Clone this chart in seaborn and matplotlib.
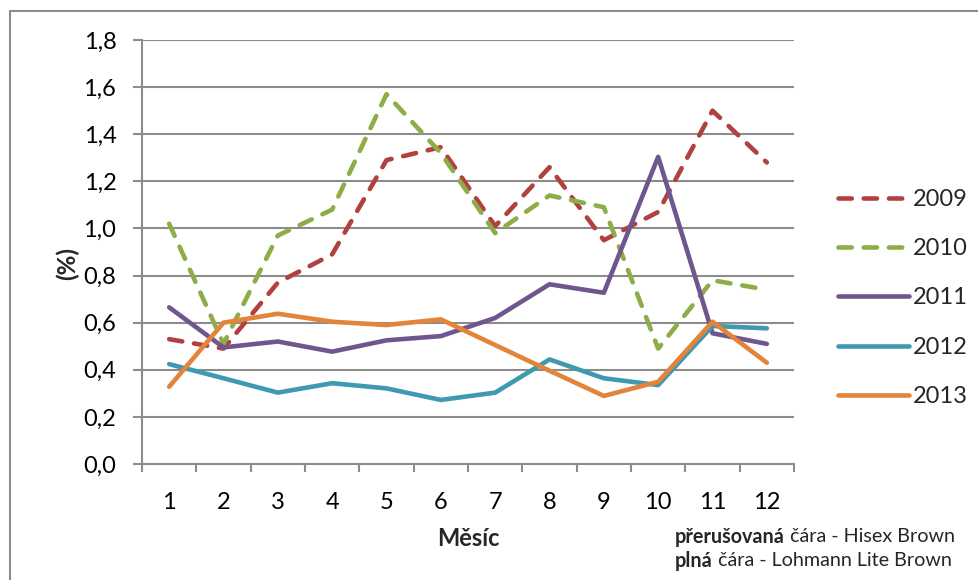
import matplotlib
matplotlib.use("Agg")
import matplotlib.pyplot as plt
import matplotlib.lines as mlines
import numpy as np
import pandas as pd
import seaborn as sns

# Monthly values (%) per year
months = [1, 2, 3, 4, 5, 6, 7, 8, 9, 10, 11, 12]
years = ["2009", "2010", "2011", "2012", "2013"]
v2009 = [0.53, 0.49, 0.77, 0.89, 1.29, 1.345, 1.01, 1.26, 0.95, 1.07, 1.50, 1.28]
v2010 = [1.02, 0.51, 0.97, 1.08, 1.57, 1.32, 0.98, 1.14, 1.09, 0.49, 0.78, 0.74]
v2011 = [0.665, 0.495, 0.52, 0.477, 0.525, 0.543, 0.62, 0.763, 0.727, 1.304, 0.555, 0.51]
v2012 = [0.424, 0.364, 0.303, 0.343, 0.321, 0.272, 0.303, 0.444, 0.364, 0.335, 0.586, 0.576]
v2013 = [0.328, 0.60, 0.638, 0.604, 0.59, 0.614, 0.505, 0.396, 0.289, 0.349, 0.604, 0.43]
yticks = [0.0, 0.2, 0.4, 0.6, 0.8, 1.0, 1.2, 1.4, 1.6, 1.8]

series = [v2009, v2010, v2011, v2012, v2013]
df = pd.DataFrame({
    "month": np.tile(months, len(years)),
    "year": np.repeat(years, len(months)),
    "value": np.concatenate(series),
})

colors = {"2009": "#B0413E", "2010": "#8DAD49", "2011": "#70568F",
          "2012": "#3F99B1", "2013": "#E2843A"}
dash = (2.9, 2.6)
dashes = {"2009": dash, "2010": dash, "2011": "", "2012": "", "2013": ""}

sns.set_theme(style="white")
plt.rcParams["font.family"] = ["Lato", "DejaVu Sans"]

W, H = 979, 580
fig = plt.figure(figsize=(W / 100, H / 100), dpi=100)
L, R, T, B = 142, 794, 40, 464
ax = fig.add_axes([L / W, 1 - B / H, (R - L) / W, (B - T) / H])

sns.lineplot(data=df, x="month", y="value", hue="year", style="year",
             palette=colors, dashes=dashes, linewidth=3.3, ax=ax,
             legend=False, sort=False)
for ln in ax.get_lines():
    ln.set_dash_capstyle("round")
    ln.set_solid_capstyle("round")
    ln.set_solid_joinstyle("round")
    ln.set_dash_joinstyle("round")

grid_c = "#8C8C8C"
ax.set_xlim(0.5, 12.5)
ax.set_ylim(0, 1.8)
ax.set_yticks(yticks)
ax.set_yticklabels([f"{t:.1f}".replace(".", ",") for t in yticks])
ax.set_xticks(months)
ax.set_xticklabels([str(m) for m in months])
ax.set_xticks(np.arange(0.5, 13.0, 1.0), minor=True)
ax.yaxis.grid(True, color=grid_c, linewidth=1.5)
ax.set_axisbelow(True)
for s in ["top", "right"]:
    ax.spines[s].set_visible(False)
for s in ["left", "bottom"]:
    ax.spines[s].set_color(grid_c)
    ax.spines[s].set_linewidth(1.5)
ax.tick_params(axis="y", which="major", left=True, length=6.5, width=1.5,
               color=grid_c, pad=12, labelsize=17, labelcolor="black")
ax.tick_params(axis="x", which="major", bottom=True, length=0, pad=20,
               labelsize=17, labelcolor="black")
ax.tick_params(axis="x", which="minor", bottom=True, length=6, width=1.5,
               color=grid_c)
ax.set_xlabel("")
ax.set_ylabel("")

fig.text(67 / W, 1 - 263 / H, "(%)", rotation=90, fontsize=17.5,
         fontweight="bold", ha="center", va="center")
fig.text(468 / W, 1 - 538 / H, "Měsíc", fontsize=17, fontweight="bold",
         ha="center", va="center")

# Legend
handles = []
for y in years:
    h = mlines.Line2D([], [], color=colors[y], linewidth=3.3,
                      linestyle=(0, dashes[y]) if dashes[y] else "-",
                      dash_capstyle="round", solid_capstyle="round")
    handles.append(h)
fig.legend(handles, years, loc="center left",
           bbox_to_anchor=(826 / W, 1 - 298 / H), frameon=False,
           fontsize=17, handlelength=3.0, handletextpad=0.2,
           labelspacing=1.2, borderpad=0)

# Breed note below the axes
fig.canvas.draw()
rend = fig.canvas.get_renderer()
notes = [("přerušovaná", " čára - Hisex Brown", 537),
         ("plná", " čára - Lohmann Lite Brown", 561)]
for bold, rest, yy in notes:
    tb = fig.text(675 / W, 1 - yy / H, bold, fontsize=14.2, fontweight="bold",
                  ha="left", va="center")
    bb = tb.get_window_extent(renderer=rend)
    fig.text(bb.x1 / W, 1 - yy / H, rest, fontsize=14.2, ha="left",
             va="center")

# Outer chart frame (left and top edges)
fig.add_artist(mlines.Line2D([10 / W, 10 / W], [0, 1 - 11 / H],
                             transform=fig.transFigure, color=grid_c,
                             linewidth=1.5))
fig.add_artist(mlines.Line2D([10 / W, 1], [1 - 11 / H, 1 - 11 / H],
                             transform=fig.transFigure, color=grid_c,
                             linewidth=1.5))

fig.savefig("out.png", dpi=100)
